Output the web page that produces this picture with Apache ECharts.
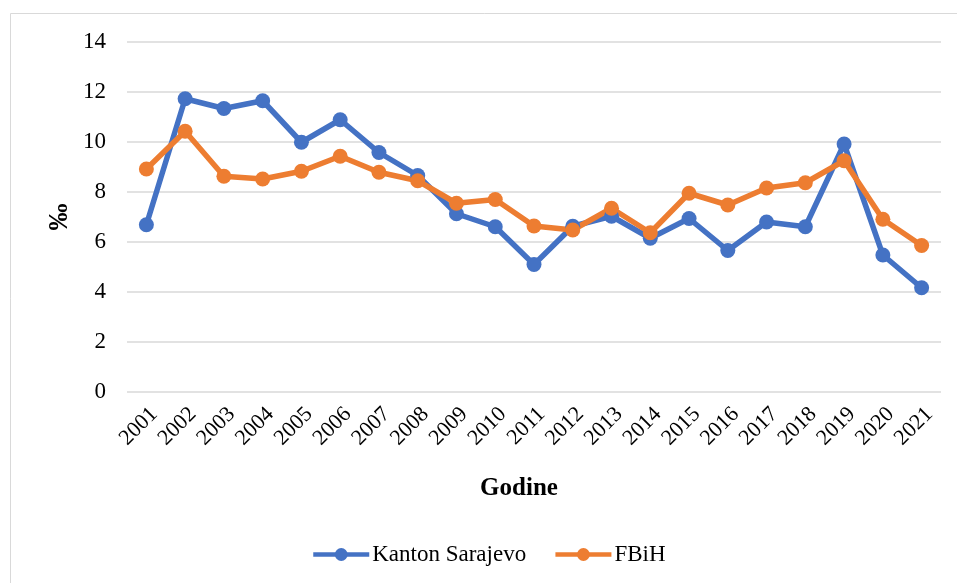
<!DOCTYPE html>
<html>
<head>
<meta charset="utf-8">
<script src="https://cdn.jsdelivr.net/npm/echarts@6/dist/echarts.min.js"></script>
<style>
  html, body { margin: 0; padding: 0; background: #fff; }
  #myChart { width: 957px; height: 583px; }
</style>
</head>
<body>
<div id="myChart"></div>
<script>
// godine (x osa)
var years = ['2001','2002','2003','2004','2005','2006','2007','2008','2009','2010','2011',
             '2012','2013','2014','2015','2016','2017','2018','2019','2020','2021']
// ‰ vrijednosti
var kantonSarajevo = [6.69, 11.73, 11.34, 11.65, 9.99, 10.89, 9.58, 8.66, 7.13, 6.61, 5.1,
                      6.63, 7.03, 6.15, 6.94, 5.66, 6.8, 6.61, 9.92, 5.48, 4.17]
var fbih = [8.92, 10.43, 8.63, 8.52, 8.83, 9.43, 8.79, 8.45, 7.55, 7.7, 6.64,
            6.48, 7.35, 6.37, 7.95, 7.48, 8.16, 8.37, 9.25, 6.91, 5.86]

var font = 'Liberation Serif'
var myChart = echarts.init(document.getElementById('myChart'))
myChart.setOption({
  animation: false,
  textStyle: { fontFamily: font, color: '#000' },
  graphic: [{
    type: 'rect',
    shape: { x: 10.5, y: 13.5, width: 960, height: 600 },
    style: { fill: 'none', stroke: '#d9d9d9', lineWidth: 1 },
    silent: true
  }],
  grid: { left: 127, right: 16, top: 42, bottom: 191 },
  legend: {
    top: 538,
    left: 306,
    itemWidth: 56,
    itemHeight: 16,
    itemGap: 27,
    lineStyle: { width: 4.5 },
    textStyle: { fontFamily: font, fontSize: 23, color: '#000', padding: [0, 0, 0, -2] },
    data: ['Kanton Sarajevo', 'FBiH']
  },
  xAxis: {
    type: 'category',
    data: years,
    name: 'Godine',
    nameLocation: 'middle',
    nameGap: 84,
    nameMoveOverlap: false,
    nameTextStyle: { fontFamily: font, fontSize: 25, fontWeight: 'bold', color: '#000', padding: [0, 30, 0, 0] },
    axisLine: { show: false },
    axisTick: { show: false },
    axisLabel: { rotate: 45, margin: 11, verticalAlign: 'top', fontFamily: font, fontSize: 22, color: '#000', interval: 0 }
  },
  yAxis: {
    type: 'value',
    min: 0,
    max: 14,
    interval: 2,
    name: '‰',
    nameLocation: 'middle',
    nameGap: 53,
    nameMoveOverlap: false,
    nameRotate: 90,
    nameTextStyle: { fontFamily: font, fontSize: 27, fontWeight: 'bold', color: '#000' },
    axisLabel: { margin: 21, fontFamily: font, fontSize: 23, color: '#000' },
    splitLine: { lineStyle: { color: '#d9d9d9', width: 1.5 } }
  },
  series: [
    {
      name: 'Kanton Sarajevo',
      type: 'line',
      data: kantonSarajevo,
      symbol: 'circle',
      symbolSize: 15,
      itemStyle: { color: '#4472C4' },
      lineStyle: { color: '#4472C4', width: 5.5 }
    },
    {
      name: 'FBiH',
      type: 'line',
      data: fbih,
      symbol: 'circle',
      symbolSize: 15,
      itemStyle: { color: '#ED7D31' },
      lineStyle: { color: '#ED7D31', width: 5.5 }
    }
  ]
})
</script>
</body>
</html>
